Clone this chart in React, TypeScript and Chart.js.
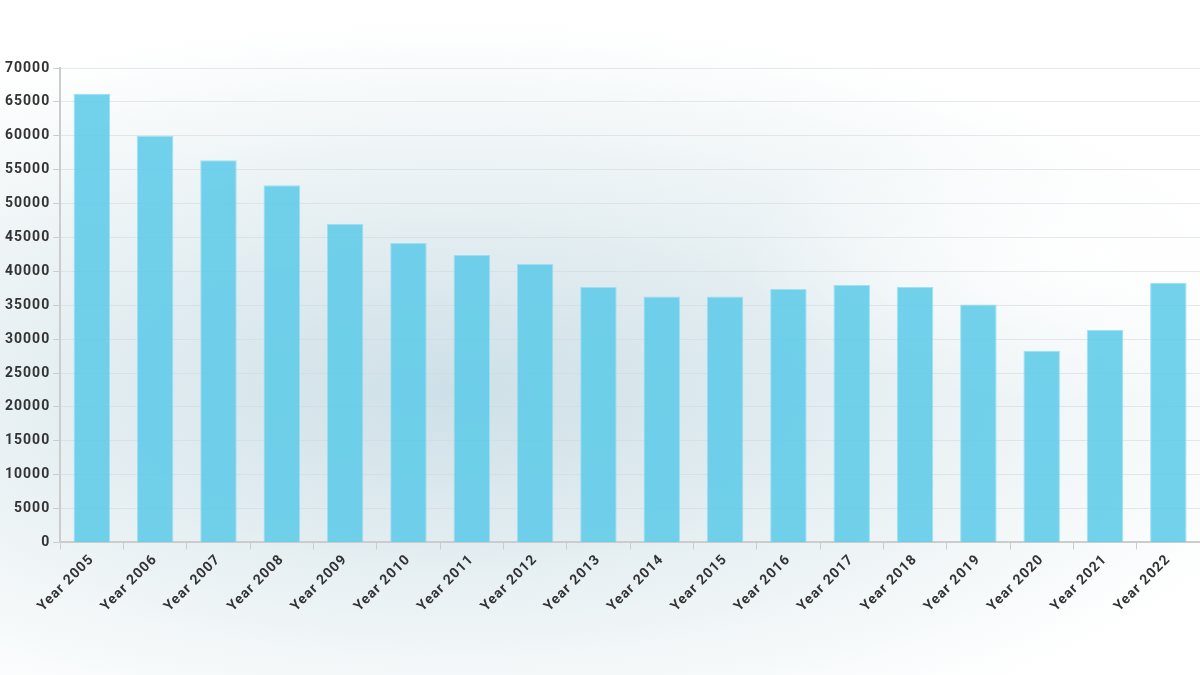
import React, { useEffect, useRef } from "react";
import { Chart, registerables } from "chart.js";

Chart.register(...registerables);

const categories = [
  "Year 2005", "Year 2006", "Year 2007", "Year 2008", "Year 2009", "Year 2010",
  "Year 2011", "Year 2012", "Year 2013", "Year 2014", "Year 2015", "Year 2016",
  "Year 2017", "Year 2018", "Year 2019", "Year 2020", "Year 2021", "Year 2022",
];
const values = [
  66200, 60000, 56400, 52700, 47000, 44200, 42400, 41100, 37700, 36300,
  36300, 37400, 38000, 37700, 35100, 28300, 31350, 38300,
];
const yMin = 0;
const yMax = 70000;
const yStep = 5000;

const spacingPlugin = {
  id: "letterSpacing",
  beforeUpdate(chart: any) {
    (chart.ctx as any).letterSpacing = "1px";
  },
  beforeDraw(chart: any) {
    (chart.ctx as any).letterSpacing = "1px";
  },
};

export default function App() {
  const ref = useRef<HTMLCanvasElement | null>(null);
  useEffect(() => {
    if (!ref.current) return;
    const chart = new Chart(ref.current, {
      type: "bar",
      data: {
        labels: categories,
        datasets: [
          {
            data: values,
            backgroundColor: "rgba(99, 204, 233, 0.9)",
            borderColor: "rgba(150, 222, 242, 0.9)",
            borderWidth: 1,
            barPercentage: 0.72,
            categoryPercentage: 0.8,
          },
        ],
      },
      options: {
        responsive: false,
        animation: false,
        layout: { padding: { top: 68, right: 0, bottom: 58, left: 2 } },
        plugins: { legend: { display: false }, tooltip: { enabled: false } },
        scales: {
          x: {
            grid: {
              display: true,
              drawOnChartArea: false,
              drawTicks: true,
              tickLength: 7,
              color: "#cccccc",
              offset: true,
            },
            border: { color: "#cccccc", width: 2 },
            ticks: {
              color: "#333333",
              font: { family: "Roboto", size: 14, weight: "bold" },
              maxRotation: 45,
              minRotation: 45,
              autoSkip: false,
              padding: 2,
            },
          },
          y: {
            min: yMin,
            max: yMax,
            grid: { color: "rgba(210,215,218,0.55)", tickLength: 7, tickColor: "#cccccc" },
            border: { color: "#cccccc", width: 2 },
            ticks: {
              stepSize: yStep,
              color: "#333333",
              font: { family: "Roboto", size: 14, weight: "bold" },
              padding: 3,
              callback: (v: any) => String(v),
            },
          },
        },
      },
      plugins: [spacingPlugin],
    });
    return () => chart.destroy();
  }, []);
  return (
    <div
      style={{
        position: "fixed",
        left: 0,
        top: 0,
        width: 1200,
        height: 675,
        background:
          "radial-gradient(ellipse 30% 22% at 92% 38%, rgba(255,255,255,0.95), rgba(255,255,255,0) 100%), radial-gradient(ellipse 72% 55% at 38% 58%, rgba(200,220,228,0.9) 0%, rgba(222,234,238,0.65) 55%, rgba(255,255,255,0) 100%), #ffffff",
      }}
    >
      <canvas ref={ref} width={1200} height={675} style={{ display: "block" }} />
    </div>
  );
}
